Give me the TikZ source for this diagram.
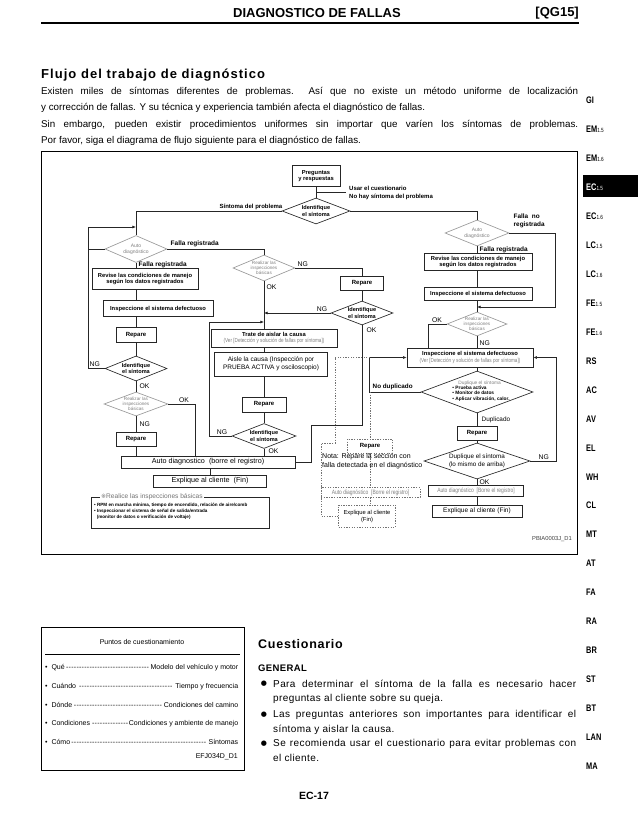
\documentclass[tikz,border=0pt]{standalone}
\usepackage{fontspec}
\setmainfont{Liberation Sans}
\newfontfamily\djv{DejaVu Sans}
\usetikzlibrary{arrows.meta,shapes.geometric}
\newcommand\myfs[2]{\fontsize{#1}{#2}\selectfont}
\newcommand\gtx{\color{black!50}\mdseries}
\newcommand\tsub[1]{{\mdseries\myfs{6}{6.5}#1}}
\newcommand\myleader{\leaders\hbox to 2.6pt{\hss-\hss}\hfill}
\begin{document}
\begin{tikzpicture}[x=1pt,y=-1pt,
 ln/.style={line width=0.65pt,draw=black!85},
 arr/.style={-{Latex[length=3.6pt,width=3pt]}},
 bx/.style 2 args={draw=black!85,line width=0.65pt,minimum width=#1,minimum height=#2,inner sep=0pt,align=center,font=\bfseries\myfs{5.8}{6.6}},
 dia/.style 2 args={diamond,draw=black!85,line width=0.65pt,minimum width=#1,minimum height=#2,inner sep=0pt},
 gdia/.style 2 args={diamond,draw=black!40,line width=0.65pt,minimum width=#1,minimum height=#2,inner sep=0pt},
 dtxt/.style={align=center,inner sep=0pt,font=\bfseries\myfs{5.6}{6.3}},
 gtxt/.style={align=center,inner sep=0pt,text=black!50,font=\myfs{5}{5.6}},
 lb/.style={inner sep=0.5pt,font=\bfseries\myfs{6.5}{7}},
 tl/.style={inner sep=0.5pt,font=\myfs{6.8}{7.4}},
 dt/.style={draw=black!55,line width=0.5pt,dash pattern=on 1.3pt off 1.3pt},
 body/.style={anchor=west,inner sep=0pt,font=\myfs{9.8}{11}},
 cbody/.style={anchor=west,inner sep=0pt,font=\myfs{10}{11}\addfontfeatures{LetterSpace=4}},
]
\fill[white] (0,0) rectangle (638,826);
\useasboundingbox (0,0) rectangle (638,826);

% ---------- header ----------
\node[font=\bfseries\myfs{13}{14}] (hd) at (317,13) {DIAGNOSTICO DE FALLAS};
\node[font=\bfseries\myfs{13}{14},anchor=east,inner sep=0pt] (qg) at (579,13) {[QG15]};
\draw[line width=1.3pt] (41,23) -- (579,23);

\node[anchor=west,inner sep=0pt,font=\bfseries\myfs{13}{14}\addfontfeatures{LetterSpace=8}] (ttl) at (41,75) {Flujo del trabajo de diagnóstico};
\node[body] (p1) at (41,92) {\makebox[537pt][s]{Existen miles de síntomas diferentes de problemas.\ \ Así que no existe un método uniforme de localización}};
\node[body] (p2) at (41,108) {y corrección de fallas. Y su técnica y experiencia también afecta el diagnóstico de fallas.};
\node[body] (p3) at (41,125) {\makebox[537pt][s]{Sin embargo, pueden existir procedimientos uniformes sin importar que varíen los síntomas de problemas.}};
\node[body] (p4) at (41,141) {Por favor, siga el diagrama de flujo siguiente para el diagnóstico de fallas.};

% ---------- side tabs ----------
\fill[black] (583,175.5) rectangle (638,197.5);
\node[anchor=west,inner sep=0pt,font=\bfseries\myfs{9.5}{10},text=white] (tabec) at (586,187) {\scalebox{0.78}[1]{EC\tsub{1.5}}};
\foreach \yy/\tabtxt in {100/GI, 129/EM\tsub{1.5}, 158/EM\tsub{1.6}, 216/EC\tsub{1.6}, 245/LC\tsub{1.5}, 274/LC\tsub{1.6}, 303/FE\tsub{1.5}, 332/FE\tsub{1.6}, 361/RS, 390/AC, 419/AV, 448/EL, 477/WH, 505/CL, 534/MT, 563/AT, 592/FA, 621/RA, 650/BR, 679/ST, 708/BT, 737/LAN, 766/MA}
  \node[anchor=west,inner sep=0pt,font=\bfseries\myfs{9.5}{10}] (tab\yy) at (586,\yy) {\scalebox{0.78}[1]{\tabtxt}};

% ---------- diagram frame ----------
\draw[line width=0.8pt] (41,151) rectangle (577,554);

% top
\node[bx={48pt}{21pt}] (pq) at (316,176) {Preguntas\\y respuestas};
\node[dia={68pt}{26pt}] (id1) at (316,211) {};
\node[dtxt] (id1t) at (id1) {Identifique\\el síntoma};
\draw[ln] (pq.south) -- (id1.north);
\coordinate (br1) at (316,192);
\draw[ln] (br1) -- ++(30,0) coordinate (br1e);
\node[anchor=west,inner sep=0pt,font=\bfseries\myfs{6}{6.5}] (usar) at (349,188) {Usar el cuestionario};
\node[anchor=west,inner sep=0pt,font=\bfseries\myfs{6}{6.5}] (nohay) at (349,197) {No hay síntoma del problema};

% left column
\node[gdia={62pt}{27pt}] (ad1) at (136,249) {};
\node[gtxt] (ad1t) at (ad1) {Auto\\diagnóstico};
\draw[ln] (id1.west) -| (ad1.north);
\node[lb,anchor=south east,font=\bfseries\myfs{6}{6.5}] (sint) at (283,210) {Síntoma del problema};
\draw[ln] (ad1.west) -- ++(-17,0) coordinate (ad1w);

\node[lb,anchor=west] (fr2) at (138,265) {Falla registrada};
\node[bx={106pt}{21pt}] (rv1) at (145,279) {Revise las condiciones de manejo\\según los datos registrados};
\draw[ln] (ad1.south) -- (ad1.south |- rv1.north);
\node[bx={110pt}{16pt}] (is1) at (158,308.5) {Inspeccione el sistema defectuoso};
\draw[ln] (ad1.south |- rv1.south) -- (ad1.south |- is1.north);
\node[bx={40pt}{15pt},font=\bfseries\myfs{6}{6.6}] (rp1) at (136,335) {Repare};
\draw[ln] (ad1.south |- is1.south) -- (rp1.north);
\node[dia={62pt}{25pt}] (id2) at (136,368.5) {};
\node[dtxt] (id2t) at (id2) {Identifique\\el síntoma};
\draw[ln] (rp1.south) -- (id2.north);
\coordinate (j3) at (136,227);
\draw[ln,arr] (id2.west) -| (88,227) -- (j3);
\node[tl,anchor=south west] (ng1) at (89,367.5) {NG};
\node[tl,anchor=west] (ok1) at (139,386) {OK};
\node[gdia={64pt}{24pt}] (rb2) at (136,404) {};
\node[gtxt,font=\myfs{4.6}{5.1}] (rb2t) at (rb2) {Realizar las\\inspecciones\\básicas};
\draw[ln] (id2.south) -- (rb2.north);
\node[tl,anchor=south] (ok2) at (184,403) {OK};
\node[tl,anchor=west] (ng2) at (139,424) {NG};
\node[bx={40pt}{14pt},font=\bfseries\myfs{6}{6.6}] (rp2) at (136,439) {Repare};
\draw[ln] (rb2.south) -- (rp2.north);

\node[bx={174pt}{12pt},font=\myfs{7.2}{8}] (ad3) at (208,462) {Auto diagnostico\ \ (borre el registro)};
\draw[ln] (rp2.south) -- (rp2.south |- ad3.north);
\draw[ln] (rb2.east) -| ([xshift=-13pt]ad3.north);
\node[bx={113pt}{12pt},font=\myfs{7.2}{8}] (ex1) at (210,481) {Explique al cliente\ \ (Fin)};
\draw[ln] (ex1.north |- ad3.south) -- (ex1.north);

\node[draw=black!85,line width=0.65pt,minimum width=178pt,minimum height=31pt,inner sep=0pt] (ri) at (180,512.5) {};
\node[fill=white,inner sep=1pt,anchor=west,font=\myfs{6.6}{7},text=black!55] (rit) at (100,497) {{\djv\myfs{6}{6}※}Realice las inspecciones básicas};
\node[anchor=north west,align=left,font=\bfseries\myfs{4.6}{6.2},inner sep=0pt] (rii) at (94,503) {• RPM en marcha mínima, tiempo de encendido, relación de aire/comb\\• Inspeccionar el sistema de señal de salida/entrada\\\ \ (monitor de datos o verificación de voltaje)};

% middle column
\node[gdia={62pt}{26pt}] (rb1) at (264,268) {};
\node[gtxt,font=\myfs{4.6}{5.1}] (rb1t) at (rb1) {Realizar las\\inspecciones\\básicas};
\draw[ln] (ad1.east) -| (rb1.north);
\node[lb,anchor=south west] (fr1) at (170,248) {Falla registrada};
\node[tl,anchor=south west] (ng3) at (297,267) {NG};
\node[tl,anchor=west] (ok3) at (266,287) {OK};
\node[bx={43pt}{14pt},font=\bfseries\myfs{6}{6.6}] (rp3) at (362,283) {Repare};
\draw[ln] (rb1.east) -| (rp3.north);
\node[dia={62pt}{24pt}] (id3) at (362,313) {};
\node[dtxt] (id3t) at (id3) {Identifique\\el síntoma};
\draw[ln] (rp3.south) -- (id3.north);
\node[tl,anchor=south] (ng4) at (322,312.5) {NG};
\node[tl,anchor=west] (ok4) at (366,330) {OK};

\node[bx={126pt}{18pt}] (tr) at (274,338) {Trate de aislar la causa\\{\gtx\scalebox{0.8}[1]{(Ver [Detección y solución de fallas por síntoma])}}};
\draw[ln] (rb1.south) -- (rb1.south |- tr.north);
\draw[ln,arr] (id3.west) -- (id3.west -| rb1.south);
\node[bx={113pt}{24pt},font=\myfs{6.5}{8}] (ai) at (271,364) {Aisle la causa (Inspección por\\PRUEBA ACTIVA y osciloscopio)};
\draw[ln] (rb1.south |- tr.south) -- (rb1.south |- ai.north);
\node[bx={44pt}{15pt},font=\bfseries\myfs{6}{6.6}] (rp4) at (264,404.5) {Repare};
\draw[ln] (rb1.south |- ai.south) -- (rp4.north);
\node[dia={64pt}{25pt}] (id4) at (264,436) {};
\node[dtxt] (id4t) at (id4) {Identifique\\el síntoma};
\draw[ln] (rp4.south) -- (id4.north);
\coordinate (j2) at (264,322);
\draw[ln,arr] (id4.west) -| (209,322) -- (j2);
\node[tl,anchor=south] (ng5) at (222,435.5) {NG};
\node[tl,anchor=west] (ok5) at (268,451) {OK};
\draw[ln] (id4.south) -- (id4.south |- ad3.north);
\draw[ln] (id3.south) |- (311,425) |- (ad3.east);

% right column
\node[gdia={64pt}{26pt}] (ad2) at (477,233) {};
\node[gtxt] (ad2t) at (ad2) {Auto\\diagnóstico};
\draw[ln] (id1.east) -| (ad2.north);
\node[lb,anchor=north west,align=left,font=\bfseries\myfs{6.4}{8.4}] (fnr) at (513,213) {Falla\ \ no\\registrada};
\node[lb,anchor=west] (fr3) at (479,249.5) {Falla registrada};
\node[bx={108pt}{17pt}] (rv2) at (478,262) {Revise las condiciones de manejo\\según los datos registrados};
\draw[ln] (ad2.south) -- (ad2.south |- rv2.north);
\node[bx={108pt}{13pt}] (is2) at (478,294) {Inspeccione el sistema defectuoso};
\draw[ln] (ad2.south |- rv2.south) -- (ad2.south |- is2.north);
\node[gdia={60pt}{24pt}] (rb3) at (477,324) {};
\node[gtxt,font=\myfs{4.6}{5.1}] (rb3t) at (rb3) {Realizar las\\inspecciones\\básicas};
\draw[ln] (rb3.north |- is2.south) -- (rb3.north);
\coordinate (j1) at (477,307);
\draw[ln,arr] (ad2.east) -- ++(46,0) |- (j1);
\node[tl,anchor=south] (ok6) at (437,323.5) {OK};
\node[tl,anchor=west] (ng6) at (479,343) {NG};
\node[bx={126pt}{19pt}] (iv) at (470,357.5) {Inspeccione el sistema defectuoso\\{\gtx\scalebox{0.8}[1]{(Ver [Detección y solución de fallas por síntoma])}}};
\draw[ln] (rb3.west) -| ([xshift=-42pt]iv.north);
\draw[ln] (rb3.south) -- (rb3.south |- iv.north);
\node[dia={112pt}{42pt}] (dp1) at (477,392) {};
\node[align=left,inner sep=0pt,font=\bfseries\myfs{4.8}{5.4}] (dp1t) at (481,391) {\hspace*{6pt}{\gtx Duplique el síntoma}\\• Prueba activa\\• Monitor de datos\\• Aplicar vibración, calor.};
\draw[ln] (dp1.north |- iv.south) -- (dp1.north);
\draw[ln,arr] (dp1.west) -- ++(-51,0) |- (iv.west);
\node[lb,anchor=south west,font=\bfseries\myfs{6.3}{7}] (nodup) at (372,391) {No duplicado};
\node[tl,anchor=west,font=\myfs{6.4}{7}] (dupl) at (481,420) {Duplicado};
\node[bx={40pt}{14pt},font=\bfseries\myfs{6}{6.6}] (rp5) at (477,433.5) {Repare};
\draw[ln] (dp1.south) -- (rp5.north);
\node[dia={106pt}{36pt}] (dp2) at (477,461) {};
\node[align=center,inner sep=0pt,font=\myfs{6.3}{7.6}] (dp2t) at (dp2) {Duplique el síntoma\\(lo mismo de arriba)};
\draw[ln] (rp5.south) -- (dp2.north);
\draw[ln,arr] (dp2.east) -- ++(26,0) |- (iv.east);
\node[tl,anchor=south west] (ng7) at (538,460.5) {NG};
\node[tl,anchor=west] (ok7) at (479,482) {OK};
\node[bx={95pt}{11pt},font=\myfs{6.2}{7}] (ad4) at (476,490.5) {{\gtx\scalebox{0.8}[1]{Auto diagnóstico\ \ [Borre el registro]}}};
\draw[ln] (dp2.south) -- (dp2.south |- ad4.north);
\node[bx={90pt}{12pt},line width=0.9pt,font=\myfs{6.5}{7}] (ex2) at (477,511) {Explique al cliente (Fin)};
\draw[ln] (dp2.south |- ad4.south) -- (dp2.south |- ex2.north);
\node[anchor=east,inner sep=0pt,font=\myfs{5.8}{6},text=black!75] (pbia) at (572,539) {PBIA0003J\_D1};

% dashed note section
\coordinate (c1) at (370,357.5);
\coordinate (c2) at (370,392);
\node[bx={45pt}{14pt},dt,font=\bfseries\myfs{6}{6.6}] (rp6) at (370,446) {Repare};
\node[bx={99pt}{10pt},dt,font=\myfs{6.2}{7}] (ad5) at (370.5,492.5) {{\gtx\scalebox{0.8}[1]{Auto diagnóstico\ \ [Borre el registro]}}};
\node[bx={57pt}{22pt},dt,font=\myfs{5.8}{7}] (ex3) at (367,516) {Explique al cliente\\(Fin)};
\draw[dt] (c1) -- (335,357.5) |- (321,443) |- (ex3.west);
\draw[dt] (c2) -- (rp6.north);
\draw[dt] (rp6.south) -- (rp6.south |- ad5.north);
\draw[dt] (ad5.south) -- (ad5.south |- ex3.north);
\node[anchor=north west,align=left,inner sep=0pt,font=\myfs{7}{9}] (nota) at (322,453.5) {Nota: Repare la sección con\\falla detectada en el diagnóstico};

% ---------- lower left box ----------
\node[draw,line width=0.8pt,minimum width=203pt,minimum height=143pt,inner sep=0pt] (pu) at (142.5,698.5) {};
\node[font=\myfs{7}{7.5}] (put) at (142,642) {Puntos de cuestionamiento};
\draw[line width=0.9pt] (45,654) -- (240,654);
\node[anchor=west,inner sep=0pt,font=\myfs{7}{7.5}] (q1) at (45,668) {\makebox[193pt][l]{•\ \ Qué\myleader Modelo del vehículo y motor}};
\node[anchor=west,inner sep=0pt,font=\myfs{7}{7.5}] (q2) at (45,686.5) {\makebox[193pt][l]{•\ \ Cuándo\ \myleader\ Tiempo y frecuencia}};
\node[anchor=west,inner sep=0pt,font=\myfs{7}{7.5}] (q3) at (45,705) {\makebox[193pt][l]{•\ \ Dónde\myleader Condiciones del camino}};
\node[anchor=west,inner sep=0pt,font=\myfs{7}{7.5}] (q4) at (45,723.5) {\makebox[193pt][l]{•\ \ Condiciones\myleader Condiciones y ambiente de manejo}};
\node[anchor=west,inner sep=0pt,font=\myfs{7}{7.5}] (q5) at (45,742) {\makebox[193pt][l]{•\ \ Cómo\myleader Síntomas}};
\node[anchor=east,inner sep=0pt,font=\myfs{7}{7.5}] (efj) at (238,757) {EFJ034D\_D1};

% ---------- Cuestionario ----------
\node[anchor=west,inner sep=0pt,font=\bfseries\myfs{12.5}{14}\addfontfeatures{LetterSpace=6}] (cu) at (258,644) {Cuestionario};
\node[anchor=west,inner sep=0pt,font=\bfseries\myfs{9.5}{11}\addfontfeatures{LetterSpace=4}] (gen) at (258,668) {GENERAL};
\node[inner sep=0pt,font=\djv\myfs{7}{7}] (b1) at (264,684) {●};
\node[inner sep=0pt,font=\djv\myfs{7}{7}] (b2) at (264,715) {●};
\node[inner sep=0pt,font=\djv\myfs{7}{7}] (b3) at (264,744) {●};
\node[cbody] (c1t) at (273,684) {\makebox[303pt][s]{Para determinar el síntoma de la falla es necesario hacer}};
\node[cbody] (c2t) at (273,699) {preguntas al cliente sobre su queja.};
\node[cbody] (c3t) at (273,715) {\makebox[303pt][s]{Las preguntas anteriores son importantes para identificar el}};
\node[cbody] (c4t) at (273,730) {síntoma y aislar la causa.};
\node[cbody] (c5t) at (273,744) {\makebox[303pt][s]{Se recomienda usar el cuestionario para evitar problemas con}};
\node[cbody] (c6t) at (273,758) {el cliente.};

\node[font=\bfseries\myfs{10.5}{12}] (ec) at (314,796) {EC-17};
\end{tikzpicture}
\end{document}
